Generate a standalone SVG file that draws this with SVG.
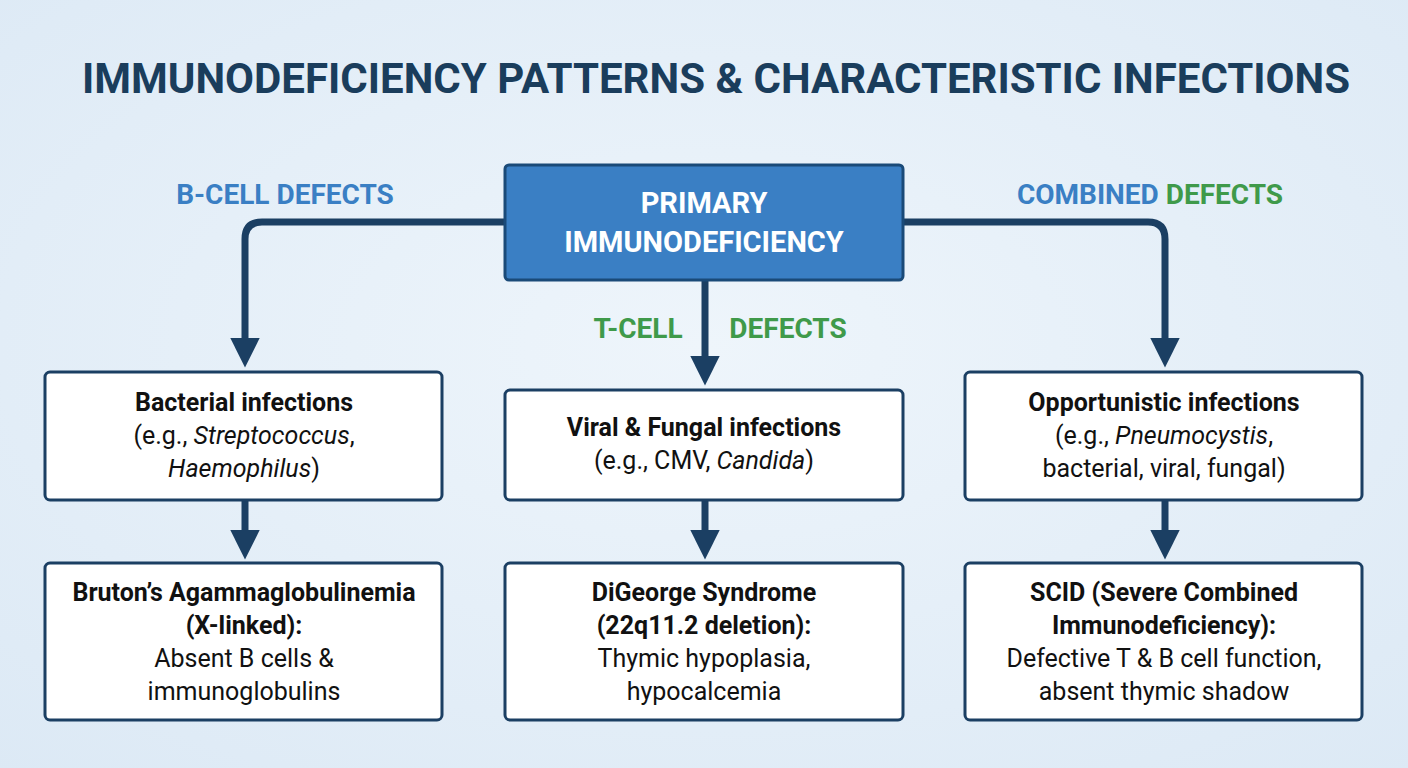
<svg xmlns="http://www.w3.org/2000/svg" width="1408" height="768" viewBox="0 0 1408 768">
<defs>
<radialGradient id="bg" cx="50%" cy="45%" r="75%"><stop offset="0" stop-color="#eef5fb"/><stop offset="1" stop-color="#dce9f5"/></radialGradient>
<marker id="ah" viewBox="0 0 10 10" refX="2" refY="5" markerWidth="4.2" markerHeight="5" orient="auto" markerUnits="strokeWidth"><path d="M0,0 L10,5 L0,10 Z" fill="#1b3f63"/></marker>
<style>
text{font-family:"Roboto","Liberation Sans",sans-serif;text-anchor:middle}
.box{fill:#fff;stroke:#1b3f63;stroke-width:3}
.t{font-size:25px;font-weight:bold;fill:#111}
.r{font-size:25px;fill:#111}
.c{fill:none;stroke:#1b3f63;stroke-width:7}
.lab{font-size:28px;font-weight:bold}
</style>
</defs>
<rect width="1408" height="768" fill="url(#bg)"/>
<text x="716" y="93" font-size="42" font-weight="bold" fill="#1a3d5c">IMMUNODEFICIENCY PATTERNS &amp; CHARACTERISTIC INFECTIONS</text>
<g id="connectors">
<path class="c" d="M505,222 H262 Q245,222 245,239 V344" marker-end="url(#ah)"/>
<path class="c" d="M903,222 H1148 Q1165,222 1165,239 V344" marker-end="url(#ah)"/>
<path class="c" d="M705,280 V362" marker-end="url(#ah)"/>
<path class="c" d="M245,500 V536" marker-end="url(#ah)"/>
<path class="c" d="M705,500 V536" marker-end="url(#ah)"/>
<path class="c" d="M1165,500 V536" marker-end="url(#ah)"/>
</g>
<g id="labels">
<text class="lab" x="285" y="204" fill="#3a7fc4">B-CELL DEFECTS</text>
<text class="lab" x="1150" y="204"><tspan fill="#3a7fc4">COMBINED</tspan><tspan fill="#3f9a4a"> DEFECTS</tspan></text>
<text class="lab" x="638" y="338" fill="#3f9a4a">T-CELL</text>
<text class="lab" x="788" y="338" fill="#3f9a4a">DEFECTS</text>
</g>
<g id="root">
<rect x="505" y="165" width="398" height="115" rx="4" fill="#3a7fc4" stroke="#1a4a78" stroke-width="3"/>
<text x="704" y="213" font-size="29" font-weight="bold" fill="#fff">PRIMARY</text>
<text x="704" y="252" font-size="29" font-weight="bold" fill="#fff">IMMUNODEFICIENCY</text>
</g>
<g id="bacterial">
<rect class="box" x="45" y="372" width="397" height="128" rx="5"/>
<text class="t" x="244" y="411">Bacterial infections</text>
<text class="r" x="244" y="444">(e.g., <tspan font-style="italic">Streptococcus</tspan>,</text>
<text class="r" x="244" y="477"><tspan font-style="italic">Haemophilus</tspan>)</text>
</g>
<g id="viral">
<rect class="box" x="505" y="390" width="398" height="110" rx="5"/>
<text class="t" x="704" y="436">Viral &amp; Fungal infections</text>
<text class="r" x="704" y="469">(e.g., CMV, <tspan font-style="italic">Candida</tspan>)</text>
</g>
<g id="opportunistic">
<rect class="box" x="965" y="372" width="397" height="128" rx="5"/>
<text class="t" x="1164" y="411">Opportunistic infections</text>
<text class="r" x="1164" y="444">(e.g., <tspan font-style="italic">Pneumocystis</tspan>,</text>
<text class="r" x="1164" y="477">bacterial, viral, fungal)</text>
</g>
<g id="bruton">
<rect class="box" x="45" y="563" width="397" height="157" rx="5"/>
<text class="t" x="244" y="601">Bruton’s Agammaglobulinemia</text>
<text class="t" x="244" y="634">(X-linked):</text>
<text class="r" x="244" y="667">Absent B cells &amp;</text>
<text class="r" x="244" y="700">immunoglobulins</text>
</g>
<g id="digeorge">
<rect class="box" x="505" y="563" width="398" height="157" rx="5"/>
<text class="t" x="704" y="601">DiGeorge Syndrome</text>
<text class="t" x="704" y="634">(22q11.2 deletion):</text>
<text class="r" x="704" y="667">Thymic hypoplasia,</text>
<text class="r" x="704" y="700">hypocalcemia</text>
</g>
<g id="scid">
<rect class="box" x="965" y="563" width="397" height="157" rx="5"/>
<text class="t" x="1164" y="601">SCID (Severe Combined</text>
<text class="t" x="1164" y="634">Immunodeficiency):</text>
<text class="r" x="1164" y="667">Defective T &amp; B cell function,</text>
<text class="r" x="1164" y="700">absent thymic shadow</text>
</g>
</svg>
